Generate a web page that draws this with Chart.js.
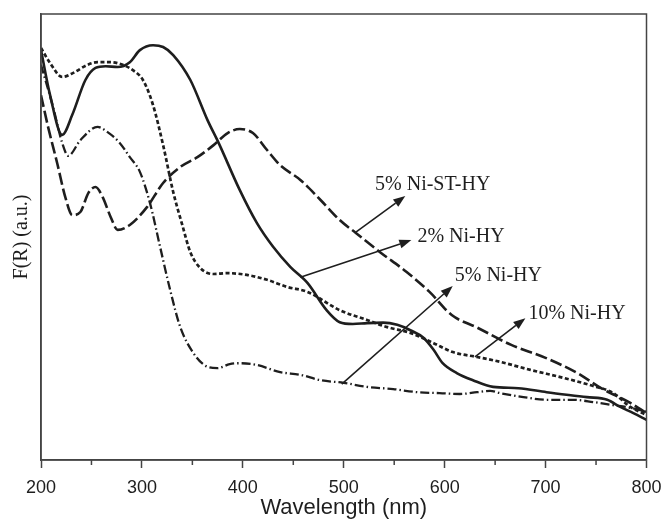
<!DOCTYPE html>
<html>
<head>
<meta charset="utf-8">
<script src="https://cdn.jsdelivr.net/npm/chart.js@4.4.0/dist/chart.umd.min.js"></script>
<style>
html,body{margin:0;padding:0;background:#fff;}
#c{display:block;}
</style>
</head>
<body>
<canvas id="c" width="666" height="519"></canvas>
<script>
// ---- Data ----
const xTickLabels = ['200','300','400','500','600','700','800'];

const ni2Wl  = [200,209,221,231,244,254,264,276,288,298,311,321,331,348,365,376,397,414,430,447,464,483,496,509,523,539,553,566,579,589,598,612,628,648,673,701,741,761,774,787,800];
const ni2Val = [91.9,81.8,72.9,77.4,85.2,87.9,88.3,88.1,89.2,91.9,93.0,92.6,90.8,85.2,76.2,71.1,60.5,53.1,47.8,43.3,39.7,33.6,30.9,30.5,30.7,30.8,30.3,29.1,27.4,24.7,21.7,19.5,17.9,16.4,16.1,15.2,14.1,13.5,11.9,10.5,9.0];

const ni10Wl  = [200,209,221,232,246,256,269,281,291,301,311,321,331,340,348,358,371,384,404,424,444,464,496,523,543,566,589,608,632,655,685,718,744,767,784,800];
const ni10Val = [92.4,89.0,85.9,86.8,88.6,89.2,89.2,88.6,87.4,85.2,79.6,70.6,60.1,52.7,46.6,43.0,41.7,41.9,41.5,40.4,38.8,37.7,33.6,31.4,29.8,28.5,26.2,24.2,23.1,22.0,20.2,18.4,16.8,15.0,11.9,10.1];

const ni5Wl  = [200,212,221,227,239,256,266,278,288,298,308,318,328,338,351,365,375,387,397,414,437,457,477,500,523,549,573,595,615,632,645,655,678,701,727,747,767,784,800];
const ni5Val = [88.6,79.1,71.1,68.2,71.7,74.7,73.5,71.1,67.9,64.6,57.6,47.8,38.1,29.8,24.0,20.9,20.6,21.5,21.7,21.3,19.7,19.1,17.9,17.3,16.4,15.9,15.2,15.0,14.8,15.2,15.5,15.0,14.1,13.5,13.5,13.0,12.3,11.7,10.8];

const stWl  = [200,207,216,224,231,239,247,254,261,269,276,288,305,321,338,355,371,385,397,410,424,437,457,477,496,512,536,562,585,607,633,666,700,733,755,784,800];
const stVal = [81.8,74.7,66.6,59.0,54.9,55.6,59.9,61.2,59.0,54.5,51.6,52.7,56.7,62.1,65.7,67.9,70.6,73.3,74.2,73.3,69.5,66.1,62.8,58.3,53.8,50.9,46.6,42.2,37.7,32.5,29.6,25.8,22.9,19.3,16.1,12.8,10.5];

const seriesNames = ['2% Ni-HY','10% Ni-HY','5% Ni-HY','5% Ni-ST-HY'];

// ---- Build datasets ----
function pts(xs, ys){ return xs.map((x,i)=>({x:x, y:ys[i]})); }
const INK = '#1e1e1e';

// annotation labels with arrows (data coordinates: nm, a.u.)
const notes = [
  {text:'5% Ni-ST-HY', from:[512,51.1], to:[561,59.2], at:[531,61.7]},
  {text:'2% Ni-HY',    from:[457,41.0], to:[567,49.3], at:[573,50.0]},
  {text:'5% Ni-HY',    from:[498,17.0], to:[608,39.0], at:[610,41.2]},
  {text:'10% Ni-HY',   from:[630,23.1], to:[680,31.8], at:[683,32.7]}
];

const decor = {
  id:'decor',
  afterDraw(chart){
    const {ctx, chartArea:a, scales:{x, y}} = chart;
    ctx.save();
    // frame
    ctx.strokeStyle = '#444';
    ctx.lineWidth = 1.5;
    ctx.strokeRect(a.left, a.top, a.right - a.left, a.bottom - a.top);
    // minor ticks
    ctx.beginPath();
    for (let v = 250; v < 800; v += 100){
      const px = x.getPixelForValue(v);
      ctx.moveTo(px, a.bottom);
      ctx.lineTo(px, a.bottom + 5);
    }
    ctx.stroke();
    // arrows + labels
    ctx.strokeStyle = INK;
    ctx.fillStyle = INK;
    ctx.lineWidth = 1.6;
    notes.forEach(n => {
      const x1 = x.getPixelForValue(n.from[0]), y1 = y.getPixelForValue(n.from[1]);
      const x2 = x.getPixelForValue(n.to[0]),   y2 = y.getPixelForValue(n.to[1]);
      const ang = Math.atan2(y2 - y1, x2 - x1);
      const hl = 12, hw = 4.5;
      const bx = x2 - hl*Math.cos(ang), by = y2 - hl*Math.sin(ang);
      ctx.beginPath();
      ctx.moveTo(x1, y1);
      ctx.lineTo(bx, by);
      ctx.stroke();
      ctx.beginPath();
      ctx.moveTo(x2, y2);
      ctx.lineTo(bx + hw*Math.sin(ang), by - hw*Math.cos(ang));
      ctx.lineTo(bx - hw*Math.sin(ang), by + hw*Math.cos(ang));
      ctx.closePath();
      ctx.fill();
      ctx.font = '20px "Liberation Serif", "Times New Roman", serif';
      ctx.textBaseline = 'middle';
      ctx.textAlign = 'left';
      ctx.fillText(n.text, x.getPixelForValue(n.at[0]), y.getPixelForValue(n.at[1]));
    });
    ctx.restore();
  }
};

const common = {fill:false, pointRadius:0, borderColor:INK, cubicInterpolationMode:'monotone'};

new Chart(document.getElementById('c'), {
  type:'line',
  data:{
    datasets:[
      Object.assign({label:seriesNames[0], data:pts(ni2Wl, ni2Val), borderWidth:2.6, borderDash:[]}, common),
      Object.assign({label:seriesNames[1], data:pts(ni10Wl, ni10Val), borderWidth:2.7, borderDash:[4,2.5]}, common),
      Object.assign({label:seriesNames[2], data:pts(ni5Wl, ni5Val), borderWidth:2.3, borderDash:[9,3,1.5,3]}, common),
      Object.assign({label:seriesNames[3], data:pts(stWl, stVal), borderWidth:2.6, borderDash:[12,4]}, common)
    ]
  },
  options:{
    responsive:false,
    animation:false,
    layout:{padding:{top:14, right:19.5, left:0, bottom:0}},
    plugins:{legend:{display:false}, tooltip:{enabled:false}},
    scales:{
      x:{
        type:'linear', min:200, max:800,
        afterFit(s){ s.height = 59; s.paddingLeft = 0; s.paddingRight = 0; },
        border:{display:true, color:'#444', width:1.5},
        grid:{drawOnChartArea:false, drawTicks:true, tickLength:8,
              tickColor:(c)=> (c.tick && c.tick.value % 100 === 0) ? '#444' : 'rgba(0,0,0,0)', tickWidth:1.5},
        ticks:{stepSize:50, padding:9, color:INK, maxRotation:0, autoSkip:false,
               font:{family:'"Liberation Sans", Arial, sans-serif', size:18},
               callback:(v)=> { const i = xTickLabels.indexOf(String(v)); return i >= 0 ? xTickLabels[i] : ''; }},
        title:{display:true, text:'Wavelength (nm)', color:INK,
               font:{family:'"Liberation Sans", Arial, sans-serif', size:22, lineHeight:1},
               padding:{top:0, bottom:0}}
      },
      y:{
        type:'linear', min:0, max:100,
        afterFit(s){ s.width = 41; },
        border:{display:true, color:'#444', width:1.5},
        grid:{display:false},
        ticks:{display:false},
        title:{display:true, text:'F(R) (a.u.)', color:INK,
               font:{family:'"Liberation Serif", "Times New Roman", serif', size:20, lineHeight:1},
               padding:{top:12, bottom:0}}
      }
    }
  },
  plugins:[decor]
});
</script>
</body>
</html>
